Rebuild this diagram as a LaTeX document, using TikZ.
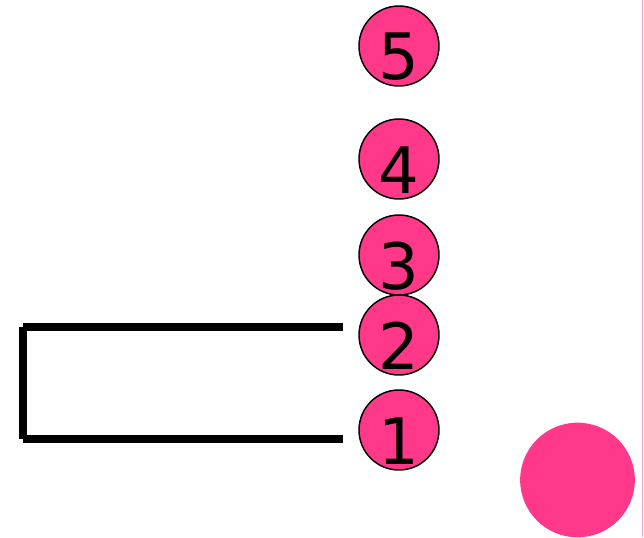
\documentclass[tikz,border=0pt]{standalone}
\usepackage{fontspec}
\newfontfamily\digitfont{DejaVu Sans}
\definecolor{hotpink}{RGB}{255,56,137}
\definecolor{edgepink}{RGB}{244,166,196}
\begin{document}
\begin{tikzpicture}[x=0.75pt,y=-0.75pt,
  ball/.style={circle,draw=black,line width=1.1pt,fill=hotpink,minimum size=60pt,inner sep=0pt},
  digit/.style={inner sep=0pt,font=\digitfont\fontsize{48pt}{48pt}\selectfont},
  bracket/.style={line width=5.4pt,line cap=butt}]
\useasboundingbox (0,0) rectangle (644,537);
\draw[edgepink,line width=0.9pt] (642.5,0) -- (642.5,537);
\node[ball] (n5) at (399,46) {};
\node[ball] (n4) at (399,159) {};
\node[ball] (n3) at (399,255) {};
\node[ball] (n2) at (399,335) {};
\node[ball] (n1) at (399,430) {};
\foreach \n in {1,...,5}{\node[digit] at ([yshift=-8.25pt]n\n.center) {\n};}
\fill[hotpink] (577.5,480) circle[radius=43pt];
\coordinate (bt) at (343,327);
\coordinate (bb) at (343,439);
\coordinate (ct) at (23,327);
\coordinate (cb) at (23,439);
\draw[bracket] (bt) -- (ct);
\draw[bracket] (bb) -- (cb);
\draw[bracket] ([yshift=-0.1pt]ct) -- ([yshift=0.1pt]cb);
\end{tikzpicture}
\end{document}
